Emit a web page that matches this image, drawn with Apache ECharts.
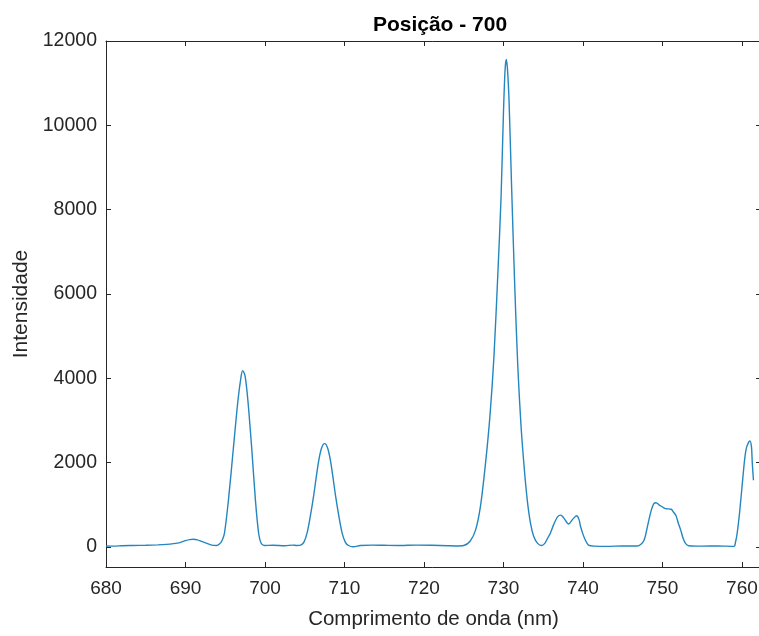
<!DOCTYPE html>
<html>
<head>
<meta charset="utf-8">
<script src="https://cdn.jsdelivr.net/npm/echarts@6/dist/echarts.min.js"></script>
<style>
  html, body { margin: 0; padding: 0; background: #ffffff; }
  #chart { width: 759px; height: 636px; }
</style>
</head>
<body>
<div id="chart"></div>
<script>
// Spectrum: wavelength (nm) and measured intensity
const wavelength = [
  680.0, 681.0, 682.0, 683.4, 685.0, 686.5, 687.6, 688.5, 689.3, 690.0, 690.5, 691.0, 691.5, 692.0, 692.7, 693.3, 693.9,
  694.3, 694.6, 694.9, 695.4, 696.0, 696.6, 697.0, 697.2, 697.5, 697.85, 698.35, 698.8, 699.2, 699.5, 699.9,
  701.0, 702.5, 703.5, 704.0, 704.5, 704.9, 705.3, 705.7, 706.1, 706.7, 707.1, 707.5, 707.9, 708.3, 708.9, 709.3,
  709.7, 710.1, 710.5,
  711.1, 712.0, 713.5, 715.0, 717.0, 719.0, 721.0, 723.0, 724.0, 725.0,
  725.8, 726.5, 727.1, 727.7, 728.3, 728.8, 729.3, 729.7, 730.0, 730.2, 730.35, 730.5, 730.7, 731.0, 731.4, 731.8,
  732.2, 732.6, 733.0, 733.4, 733.8, 734.3, 734.8, 735.2, 735.6, 735.9, 736.3, 736.8, 737.2, 737.6, 738.2, 738.7,
  739.2, 739.5, 739.7, 740.0, 740.3, 740.7, 741.5, 743.0, 745.0, 746.8, 747.3, 747.7, 748.0, 748.3, 748.6, 748.9,
  749.2, 749.6, 750.0, 750.3, 750.6, 751.1, 751.4, 751.7, 752.0, 752.3, 752.6, 752.9, 753.3, 755.0, 757.0, 759.0,
  759.2, 759.4, 759.7, 760.05, 760.3, 760.5, 760.7, 761.0, 761.2, 761.3, 761.45
];
const intensity = [
  20, 15, 25, 30, 35, 45, 57, 75, 100, 145, 170, 178, 165, 130, 80, 40, 30,
  70, 150, 320, 1100, 2290, 3470, 4050, 4180, 4050, 3470, 2290, 1100, 320, 90, 30,
  35, 25, 40, 30, 40, 110, 330, 720, 1183, 1974, 2330, 2447, 2330, 1974, 1183, 720,
  330, 110, 30,
  0, 30, 40, 35, 30, 40, 35, 25, 20, 30,
  130, 400, 950, 1900, 3100, 4500, 6500, 8300, 10300, 11300, 11560, 11350, 10600, 8700, 6300, 4300,
  2900, 1900, 1100, 560, 250, 80, 30, 80, 220, 320, 520, 710, 750, 680, 540, 650,
  735, 650, 480, 300, 160, 40, 15, 10, 20, 20, 60, 160, 380, 640, 870, 1020,
  1045, 990, 945, 910, 900, 890, 820, 740, 560, 395, 200, 80, 25, 15, 20, 10,
  120, 320, 800, 1500, 2000, 2290, 2420, 2510, 2370, 2000, 1580
];
const xTicks = [680, 690, 700, 710, 720, 730, 740, 750, 760];
const yTicks = [0, 2000, 4000, 6000, 8000, 10000, 12000];

const seriesData = wavelength.map((w, i) => [w, intensity[i]]);

const axisColor = '#262626';
const fontFamily = "'Liberation Sans', Arial, Helvetica, sans-serif";

const chart = echarts.init(document.getElementById('chart'), null, { renderer: 'canvas' });

const boxTicks = { show: true, inside: true, length: 5, lineStyle: { color: axisColor, width: 1 } };
const plainNumber = (v) => String(v);

chart.setOption({
  animation: false,
  backgroundColor: '#ffffff',
  title: {
    text: 'Posição - 700',
    left: 435,
    textAlign: 'center',
    top: 10,
    textStyle: { fontFamily, fontSize: 21, fontWeight: 'bold', color: '#000000' }
  },
  grid: { left: 106, top: 41, width: 655, height: 526, containLabel: false, outerBoundsMode: 'none' },
  xAxis: [
    {
      type: 'value',
      position: 'bottom',
      min: 680,
      max: 762.4,
      interval: 10,
      name: 'Comprimento de onda (nm)',
      nameLocation: 'middle',
      nameGap: 42,
      nameTextStyle: { fontFamily, fontSize: 20.5, color: axisColor },
      axisLine: { show: true, onZero: false, lineStyle: { color: axisColor, width: 1 } },
      axisTick: Object.assign({}, boxTicks, { customValues: xTicks }),
      axisLabel: { customValues: xTicks, formatter: plainNumber, fontFamily, fontSize: 19, color: axisColor, margin: 12 },
      splitLine: { show: false }
    },
    {
      type: 'value',
      position: 'top',
      min: 680,
      max: 762.4,
      interval: 10,
      axisLine: { show: true, onZero: false, lineStyle: { color: axisColor, width: 1 } },
      axisTick: Object.assign({}, boxTicks, { customValues: xTicks }),
      axisLabel: { show: false },
      splitLine: { show: false }
    }
  ],
  yAxis: [
    {
      type: 'value',
      position: 'left',
      min: -480,
      max: 12000,
      name: 'Intensidade',
      nameLocation: 'middle',
      nameGap: 74,
      nameRotate: 90,
      nameTextStyle: { fontFamily, fontSize: 21, color: axisColor },
      axisLine: { show: true, onZero: false, lineStyle: { color: axisColor, width: 1 } },
      axisTick: Object.assign({}, boxTicks, { customValues: yTicks }),
      axisLabel: { customValues: yTicks, formatter: plainNumber, fontFamily, fontSize: 19.5, color: axisColor, margin: 9 },
      splitLine: { show: false }
    },
    {
      type: 'value',
      position: 'right',
      min: -480,
      max: 12000,
      axisLine: { show: true, onZero: false, lineStyle: { color: axisColor, width: 1 } },
      axisTick: Object.assign({}, boxTicks, { customValues: yTicks }),
      axisLabel: { show: false },
      splitLine: { show: false }
    }
  ],
  series: [
    {
      type: 'line',
      xAxisIndex: 0,
      yAxisIndex: 0,
      data: seriesData,
      showSymbol: false,
      smooth: 0.3,
      lineStyle: { color: '#2386bf', width: 1.4 },
      clip: true
    }
  ]
});
</script>
</body>
</html>
